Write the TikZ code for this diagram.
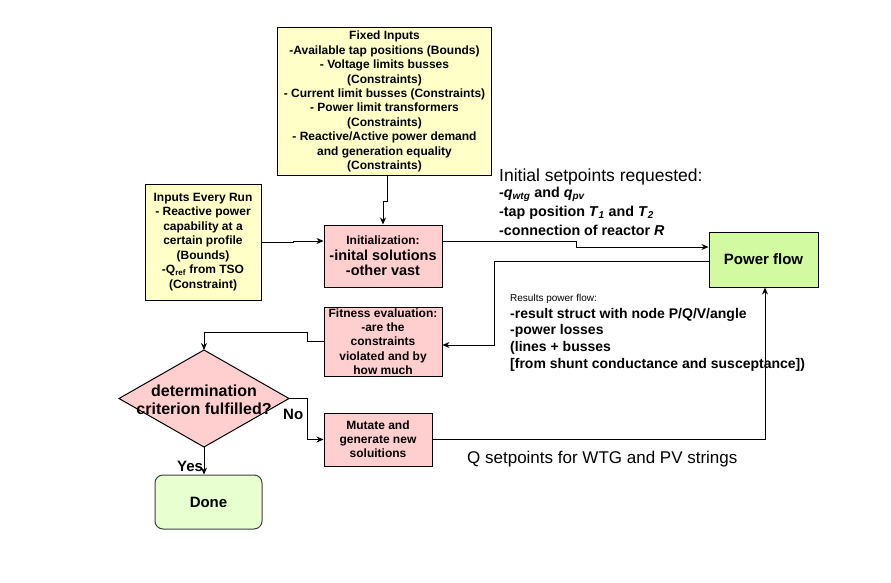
\documentclass[tikz,border=0pt]{standalone}
\usepackage{fontspec}
\setmainfont{Liberation Sans}
\usetikzlibrary{arrows.meta}
\definecolor{yel}{RGB}{255,255,200}
\definecolor{pnk}{RGB}{255,206,206}
\definecolor{grn}{RGB}{210,250,160}
\definecolor{grnl}{RGB}{232,255,208}
\tikzset{
  box/.style={draw=black, line width=1pt, inner sep=1pt, align=center},
  conn/.style={draw=black, line width=0.9pt, -{Stealth[length=7pt,width=6pt]}},
  lbl/.style={inner sep=0pt, anchor=base west, align=left},
  listfont/.style={font=\bfseries\fontsize{14.3}{17}\selectfont},
  resfont/.style={font=\bfseries\fontsize{14}{16.7}\selectfont},
}
\begin{document}
\begin{tikzpicture}[x=1pt,y=-1pt]
\useasboundingbox (0,0) rectangle (891,583);
\fill[white] (0,0) rectangle (891,583);

\node[box, fill=yel, minimum width=214pt, minimum height=148pt,
      font=\bfseries\fontsize{12}{14.4}\selectfont] (fixed) at (384.5,101.5)
  {Fixed Inputs\\-Available tap positions (Bounds)\\- Voltage limits busses\\(Constraints)\\- Current limit busses (Constraints)\\- Power limit transformers\\(Constraints)\\- Reactive/Active power demand\\and generation equality\\(Constraints)};

\node[box, fill=yel, minimum width=116pt, minimum height=116pt,
      font=\bfseries\fontsize{12}{14.5}\selectfont] (inputs) at (203,242)
  {Inputs Every Run\\- Reactive power\\capability at a\\certain profile\\(Bounds)\\-Q\textsubscript{ref} from TSO\\(Constraint)};

\node[box, fill=pnk, minimum width=118pt, minimum height=62pt,
      font=\bfseries\fontsize{14.5}{15.5}\selectfont] (init) at (383,256)
  {{\fontsize{12}{14}\selectfont Initialization:}\\-inital solutions\\-other vast};

\node[box, fill=pnk, minimum width=118pt, minimum height=69pt,
      font=\bfseries\fontsize{12}{14.3}\selectfont] (fit) at (383,341.5)
  {Fitness evaluation:\\-are the\\constraints\\violated and by\\how much};

\node[box, fill=pnk, minimum width=108pt, minimum height=53pt,
      font=\bfseries\fontsize{12}{14}\selectfont] (mut) at (378,439.5)
  {Mutate and\\generate new\\soluitions};

% decision diamond
\coordinate (diaN) at (204,350);
\coordinate (diaE) at (289,398.5);
\coordinate (diaS) at (204,447);
\coordinate (diaW) at (119,398.5);
\draw[line width=1pt, fill=pnk] (diaN) -- (diaE) -- (diaS) -- (diaW) -- cycle;
\node[align=center, inner sep=0pt, font=\bfseries\fontsize{16}{18.5}\selectfont] (dia) at (204,400)
  {determination\\criterion fulfilled?};

\node[box, fill=grn, minimum width=109pt, minimum height=55pt,
      font=\bfseries\fontsize{15}{17}\selectfont] (pf) at (763.5,259.5) {Power flow};

\node[box, fill=grnl, draw=black!75, rounded corners=8pt, minimum width=107pt, minimum height=54pt,
      font=\bfseries\fontsize{15}{17}\selectfont] (done) at (208.5,502) {Done};

% labels
\node[lbl, font=\fontsize{17.5}{19}\selectfont] (h1) at (499,181) {Initial setpoints requested:};
\node[lbl, listfont] (l1) at (499,197)
  {-\textit{q}\textsubscript{\textit{wtg}} and \textit{q}\textsubscript{\textit{pv}}};
\node[lbl, listfont] (l2) at (499,216)
  {-tap position \textit{T}\textsubscript{\textit{1}} and \textit{T}\textsubscript{\textit{2}}};
\node[lbl, listfont] (l3) at (499,235)
  {-connection of reactor \textit{R}};

\node[lbl, font=\fontsize{10}{12}\selectfont] (r0) at (510,301) {Results power flow:};
\node[lbl, resfont] (r1) at (510,318) {-result struct with node P/Q/V/angle};
\node[lbl, resfont] (r2) at (510,334) {-power losses};
\node[lbl, resfont] (r3) at (510,351) {(lines + busses};
\node[lbl, resfont] (r4) at (510,368) {[from shunt conductance and susceptance])};

\node[lbl, font=\fontsize{17}{19}\selectfont] (qs) at (467,463) {Q setpoints for WTG and PV strings};

\node[lbl, font=\bfseries\fontsize{15}{17}\selectfont] (yes) at (177,471) {Yes};
\node[lbl, font=\bfseries\fontsize{15}{17}\selectfont] (no) at (283,419) {No};

% connectors
\draw[conn] ([xshift=2.5pt]fixed.south) -- ++(0,25) -| (init.north);
\draw[conn] (inputs.east) -- ++(32,0) |- ([yshift=15pt]init.west);
\draw[conn] ([yshift=15pt]init.east) -- ++(134,0) |- ([yshift=12.5pt]pf.west);
\draw[conn] ([yshift=-1.5pt]pf.west) -- (494,261) |- ([yshift=-3.5pt]fit.east);
\draw[conn] (fit.west) -- (307,341.5) -- (307,332) -| (diaN);
\draw[conn] (diaE) -- (307,398.5) |- (mut.west);
\draw[conn] (mut.east) -| ([xshift=1.5pt]pf.south);
\draw[conn] (diaS) -- (diaS |- done.north);
\end{tikzpicture}
\end{document}
